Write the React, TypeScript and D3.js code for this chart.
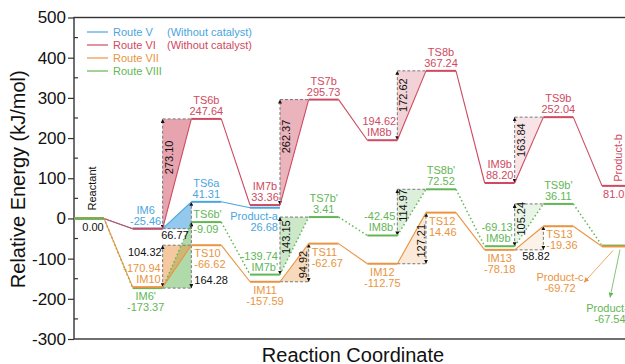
import React, { useEffect, useRef } from "react";
import * as d3 from "d3";

// positions along the reaction coordinate
const slots = [0, 1, 2, 3, 4, 5, 6, 7, 8, 9];

const routeVNames = ["Reactant", "IM6", "TS6a", "Product-a"];
const routeVEnergy = [0, -25.46, 41.31, 26.68];

const routeVINames = ["Reactant", "IM6", "TS6b", "IM7b", "TS7b", "IM8b", "TS8b", "IM9b", "TS9b", "Product-b"];
const routeVIEnergy = [0, -25.46, 247.64, 33.36, 295.73, 194.62, 367.24, 88.2, 252.04, 81.03];

const routeVIINames = ["Reactant", "IM10", "TS10", "IM11", "TS11", "IM12", "TS12", "IM13", "TS13", "Product-c"];
const routeVIIEnergy = [0, -170.94, -66.62, -157.59, -62.67, -112.75, 14.46, -78.18, -19.36, -69.72];

const routeVIIINames = ["Reactant", "IM6'", "TS6b'", "IM7b'", "TS7b'", "IM8b'", "TS8b'", "IM9b'", "TS9b'", "Product-d"];
const routeVIIIEnergy = [0, -173.37, -9.09, -139.74, 3.41, -42.45, 72.52, -69.13, 36.11, -67.54];

// index of the intermediate in front of each boxed barrier
const routeVBarriers = [1];
const routeVIBarriers = [1, 3, 5, 7];
const routeVIIBarriers = [1, 3, 5, 7];
const routeVIIIBarriers = [1, 3, 5, 7];

const legendLabels = ["Route V", "Route VI", "Route VII", "Route VIII"];
const legendNotes = ["(Without catalyst)", "(Without catalyst)", "", ""];

const yTicks = [-300, -200, -100, 0, 100, 200, 300, 400, 500];
const yMinorTicks = [-250, -150, -50, 50, 150, 250, 350, 450];

const FONT = "'Liberation Sans', Arial, Helvetica, sans-serif";
const COLORS = { V: "#4aa5e0", VI: "#cf4a60", VII: "#e99440", VIII: "#62b655" };

// how each barrier box is drawn (side of the vertical arrow, label spot, fill opacity)
const boxStyles: Record<string, any[]> = {
  V: [{ side: "down", lab: "below", dx: -2, op: 0.6 }],
  VI: [
    { side: "up", lab: "rot", op: 0.5 },
    { side: "up", lab: "rot", op: 0.42 },
    { side: "up", lab: "rot", op: 0.25 },
    { side: "up", lab: "rot", op: 0.15 },
  ],
  VII: [
    { side: "up", lab: "left", op: 0.5 },
    { side: "down", lab: "rot", op: 0.35 },
    { side: "down", lab: "rot", op: 0.2 },
    { side: "down", lab: "below", dx: 7, op: 0.12 },
  ],
  VIII: [
    { side: "down", lab: "right", op: 0.5 },
    { side: "up", lab: "rot", op: 0.32 },
    { side: "up", lab: "rot", op: 0.22 },
    { side: "up", lab: "rot", op: 0.14 },
  ],
};

// where the name / energy text sits around each level
const labelPos: Record<string, any> = {
  IM6: { at: "above", dx: -2 },
  TS6a: { at: "above" },
  "Product-a": { at: "below", align: "end" },
  TS6b: { at: "above" },
  IM7b: { at: "above" },
  TS7b: { at: "above" },
  IM8b: { at: "above", first: "value", dx: -3 },
  TS8b: { at: "above" },
  IM9b: { at: "above" },
  TS9b: { at: "above" },
  "Product-b": { at: "rot" },
  IM10: { at: "above", align: "end", first: "value" },
  TS10: { at: "below", align: "start" },
  IM11: { at: "below" },
  TS11: { at: "below", align: "start" },
  IM12: { at: "below" },
  TS12: { at: "below", align: "start" },
  IM13: { at: "below" },
  TS13: { at: "below", align: "start" },
  "Product-c": { at: "callout", lx: -42, ly: 35, ax1: 11, ax2: -18, ay2: 36 },
  "IM6'": { at: "below", dx: -2 },
  "TS6b'": { at: "split" },
  "IM7b'": { at: "above", align: "end", first: "value" },
  "TS7b'": { at: "above" },
  "IM8b'": { at: "above", align: "end", first: "value" },
  "TS8b'": { at: "above" },
  "IM9b'": { at: "above", align: "end", first: "value" },
  "TS9b'": { at: "above" },
  "Product-d": { at: "callout", lx: 8, ly: 66, ax1: 18, ax2: 8, ay2: 52 },
};

const App = () => {
  const ref = useRef<SVGSVGElement>(null);

  useEffect(() => {
    const width = 625;
    const height = 364;
    const svg = d3.select(ref.current);
    svg.selectAll("*").remove();
    svg.attr("width", width).attr("height", height);

    const routes = [
      { key: "V", names: routeVNames, energy: routeVEnergy, barriers: routeVBarriers, color: COLORS.V, dotted: false },
      { key: "VI", names: routeVINames, energy: routeVIEnergy, barriers: routeVIBarriers, color: COLORS.VI, dotted: false },
      { key: "VIII", names: routeVIIINames, energy: routeVIIIEnergy, barriers: routeVIIIBarriers, color: COLORS.VIII, dotted: true },
      { key: "VII", names: routeVIINames, energy: routeVIIEnergy, barriers: routeVIIBarriers, color: COLORS.VII, dotted: false },
    ];

    const x = d3.scaleBand<number>().domain(slots).range([74, 632]).paddingInner(0.489).paddingOuter(0);
    const bw = x.bandwidth();
    const y = d3.scaleLinear().domain([-300, 500]).range([339, 17.5]);

    // arrow markers
    const defs = svg.append("defs");
    const marker = (id: string, color: string, size: number) => {
      defs
        .append("marker")
        .attr("id", id)
        .attr("viewBox", "0 0 6 6")
        .attr("refX", 6)
        .attr("refY", 3)
        .attr("markerUnits", "userSpaceOnUse")
        .attr("markerWidth", size)
        .attr("markerHeight", size)
        .attr("orient", "auto-start-reverse")
        .append("path")
        .attr("d", "M0,0L6,3L0,6Z")
        .attr("fill", color);
    };
    marker("arrK", "#111", 4);
    marker("arrVII", COLORS.VII, 5);
    marker("arrVIII", COLORS.VIII, 5);

    // y axis
    const yAxis = d3
      .axisLeft(y)
      .tickValues(yTicks)
      .tickSize(6)
      .tickPadding(2)
      .tickFormat((d) => String(d));
    const ga = svg.append("g").attr("transform", "translate(74,0)").call(yAxis);
    ga.attr("font-size", 17).attr("font-family", FONT);
    ga.select(".domain").remove();
    ga.selectAll("text").attr("fill", "#111");
    ga.selectAll("line").attr("stroke", "#333").attr("stroke-width", 1.2);

    svg
      .append("g")
      .selectAll("line")
      .data(yMinorTicks)
      .join("line")
      .attr("x1", 74)
      .attr("x2", 78)
      .attr("y1", (d) => y(d))
      .attr("y2", (d) => y(d))
      .attr("stroke", "#333")
      .attr("stroke-width", 1.2);

    // frame
    svg
      .append("rect")
      .attr("x", 74)
      .attr("y", y(500))
      .attr("width", 632 - 74)
      .attr("height", y(-300) - y(500))
      .attr("fill", "none")
      .attr("stroke", "#333")
      .attr("stroke-width", 1.4);

    // axis titles
    svg
      .append("text")
      .attr("transform", `translate(25,${(y(500) + y(-300)) / 2 + 1}) rotate(-90)`)
      .attr("text-anchor", "middle")
      .attr("font-family", FONT)
      .attr("font-size", 20)
      .attr("fill", "#111")
      .text("Relative Energy (kJ/mol)");
    svg
      .append("text")
      .attr("x", 353)
      .attr("y", 362)
      .attr("text-anchor", "middle")
      .attr("font-family", FONT)
      .attr("font-size", 20)
      .attr("fill", "#111")
      .text("Reaction Coordinate");

    const gFill = svg.append("g");
    const gDash = svg.append("g");
    const gLines = svg.append("g");
    const gText = svg.append("g").attr("font-family", FONT).attr("font-size", 11);

    const addText = (g: any, tx: number, ty: number, txt: string, color: string, anchor = "middle") =>
      g.append("text").attr("x", tx).attr("y", ty).attr("text-anchor", anchor).attr("fill", color).text(txt);

    // barrier boxes
    routes.forEach((r) => {
      r.barriers.forEach((i, k) => {
        const st = boxStyles[r.key][k];
        const xL = x(slots[i])! + bw;
        const xR = x(slots[i + 1])!;
        const yIM = y(r.energy[i]);
        const yTS = y(r.energy[i + 1]);
        const h = yIM - yTS;
        const pts: [number, number][] =
          st.side === "up"
            ? [[xL, yIM], [xL, yTS], [xR, yTS]]
            : [[xL, yIM], [xR, yTS], [xR, yIM]];
        gFill
          .append("path")
          .attr("d", d3.line()(pts) + "Z")
          .attr("fill", r.color)
          .attr("fill-opacity", st.op);

        const xv = st.side === "up" ? xL : xR;
        const yh = st.side === "up" ? yTS : yIM;
        gDash
          .append("line")
          .attr("x1", xL)
          .attr("x2", xR)
          .attr("y1", yh)
          .attr("y2", yh)
          .attr("stroke", "#777")
          .attr("stroke-width", 1)
          .attr("stroke-dasharray", "3,2");
        gDash
          .append("line")
          .attr("x1", xv)
          .attr("x2", xv)
          .attr("y1", yIM)
          .attr("y2", yTS)
          .attr("stroke", "#777")
          .attr("stroke-width", 1)
          .attr("stroke-dasharray", "3,2")
          .attr("marker-start", "url(#arrK)")
          .attr("marker-end", "url(#arrK)");

        const txt = (r.energy[i + 1] - r.energy[i]).toFixed(2);
        if (st.lab === "rot") {
          const tx = st.side === "up" ? xL + 10 : xR - 1.5;
          const ty = st.side === "up" ? yTS + 0.35 * h : yIM - 0.45 * h;
          gText
            .append("text")
            .attr("transform", `translate(${tx},${ty}) rotate(-90)`)
            .attr("text-anchor", "middle")
            .attr("fill", "#111")
            .text(txt);
        } else if (st.lab === "below") {
          addText(gText, (xL + xR) / 2 + (st.dx || 0), yIM + 10, txt, "#111");
        } else if (st.lab === "left") {
          addText(gText, xL - 1, yTS + 11, txt, "#111", "end");
        } else if (st.lab === "right") {
          addText(gText, xR + 3, yIM - 4, txt, "#111", "start");
        }
      });
    });

    // connectors and levels
    routes.forEach((r) => {
      for (let i = 0; i < r.energy.length - 1; i++) {
        const seg = gLines
          .append("line")
          .attr("x1", x(slots[i])! + bw)
          .attr("y1", y(r.energy[i]))
          .attr("x2", x(slots[i + 1])!)
          .attr("y2", y(r.energy[i + 1]))
          .attr("stroke", r.color)
          .attr("stroke-width", r.dotted ? 1.5 : 1.1);
        if (r.dotted) seg.attr("stroke-dasharray", "1.5,2.5");
      }
      r.energy.forEach((v, i) => {
        gLines
          .append("line")
          .attr("x1", x(slots[i])!)
          .attr("x2", x(slots[i])! + bw)
          .attr("y1", y(v))
          .attr("y2", y(v))
          .attr("stroke", r.color)
          .attr("stroke-width", 2);
      });
    });
    // reactant level shows in green
    gLines
      .append("line")
      .attr("x1", x(slots[0])!)
      .attr("x2", x(slots[0])! + bw)
      .attr("y1", y(routeVIIIEnergy[0]))
      .attr("y2", y(routeVIIIEnergy[0]))
      .attr("stroke", COLORS.VIII)
      .attr("stroke-width", 2);

    // reactant label
    const rx = x(slots[0])! + bw / 2;
    gText
      .append("text")
      .attr("transform", `translate(${rx + 7},${y(routeVIIIEnergy[0]) - 8}) rotate(-90)`)
      .attr("fill", "#111")
      .text(routeVNames[0]);
    addText(gText, rx + 4, y(routeVIIIEnergy[0]) + 13, routeVIIIEnergy[0].toFixed(2), "#111");

    // state labels
    const drawn = new Set<string>(["Reactant"]);
    routes
      .slice()
      .sort((a, b) => (a.key === "V" ? -1 : b.key === "V" ? 1 : 0))
      .forEach((r) => {
        r.names.forEach((name, i) => {
          if (drawn.has(name)) return;
          drawn.add(name);
          const p = labelPos[name];
          if (!p) return;
          const x0 = x(slots[i])!;
          const yL = y(r.energy[i]);
          const val = r.energy[i].toFixed(2);
          const align = p.align || "middle";
          const tx = align === "start" ? x0 + 3 : align === "end" ? x0 + bw - 2 : x0 + bw / 2 + (p.dx || 0);
          if (p.at === "above") {
            const lines = p.first === "value" ? [val, name] : [name, val];
            addText(gText, tx, yL - 15, lines[0], r.color, align);
            addText(gText, tx, yL - 4, lines[1], r.color, align);
          } else if (p.at === "below") {
            addText(gText, tx, yL + 12, name, r.color, align);
            addText(gText, tx, yL + 23, val, r.color, align);
          } else if (p.at === "split") {
            addText(gText, x0 + 2, yL - 4, name, r.color, "start");
            addText(gText, x0 + 2, yL + 11, val, r.color, "start");
          } else if (p.at === "rot") {
            gText
              .append("text")
              .attr("transform", `translate(${x0 + 20},${yL - 4}) rotate(-90)`)
              .attr("fill", r.color)
              .text(name);
            addText(gText, x0 + 1, yL + 12, val, r.color, "start");
          } else if (p.at === "callout") {
            gText
              .append("line")
              .attr("x1", x0 + p.ax1)
              .attr("y1", yL + 4)
              .attr("x2", x0 + p.ax2)
              .attr("y2", yL + p.ay2)
              .attr("stroke", r.color)
              .attr("stroke-width", 0.8)
              .attr("marker-end", `url(#arr${r.key})`);
            addText(gText, x0 + p.lx, yL + p.ly, name, r.color);
            addText(gText, x0 + p.lx, yL + p.ly + 11, val, r.color);
          }
        });
      });

    // legend
    const legendColors = [COLORS.V, COLORS.VI, COLORS.VII, COLORS.VIII];
    const gLeg = svg.append("g").attr("font-family", FONT).attr("font-size", 11);
    legendLabels.forEach((lab, i) => {
      const ly = 32 + i * 13;
      gLeg
        .append("line")
        .attr("x1", 87)
        .attr("x2", 108)
        .attr("y1", ly)
        .attr("y2", ly)
        .attr("stroke", legendColors[i])
        .attr("stroke-width", 1.2);
      addText(gLeg, 113, ly + 4, lab, legendColors[i], "start");
      if (legendNotes[i]) addText(gLeg, 167, ly + 4, legendNotes[i], legendColors[i], "start");
    });
  }, []);

  return <svg ref={ref} style={{ position: "absolute", left: 0, top: 0 }}></svg>;
};

export default App;
